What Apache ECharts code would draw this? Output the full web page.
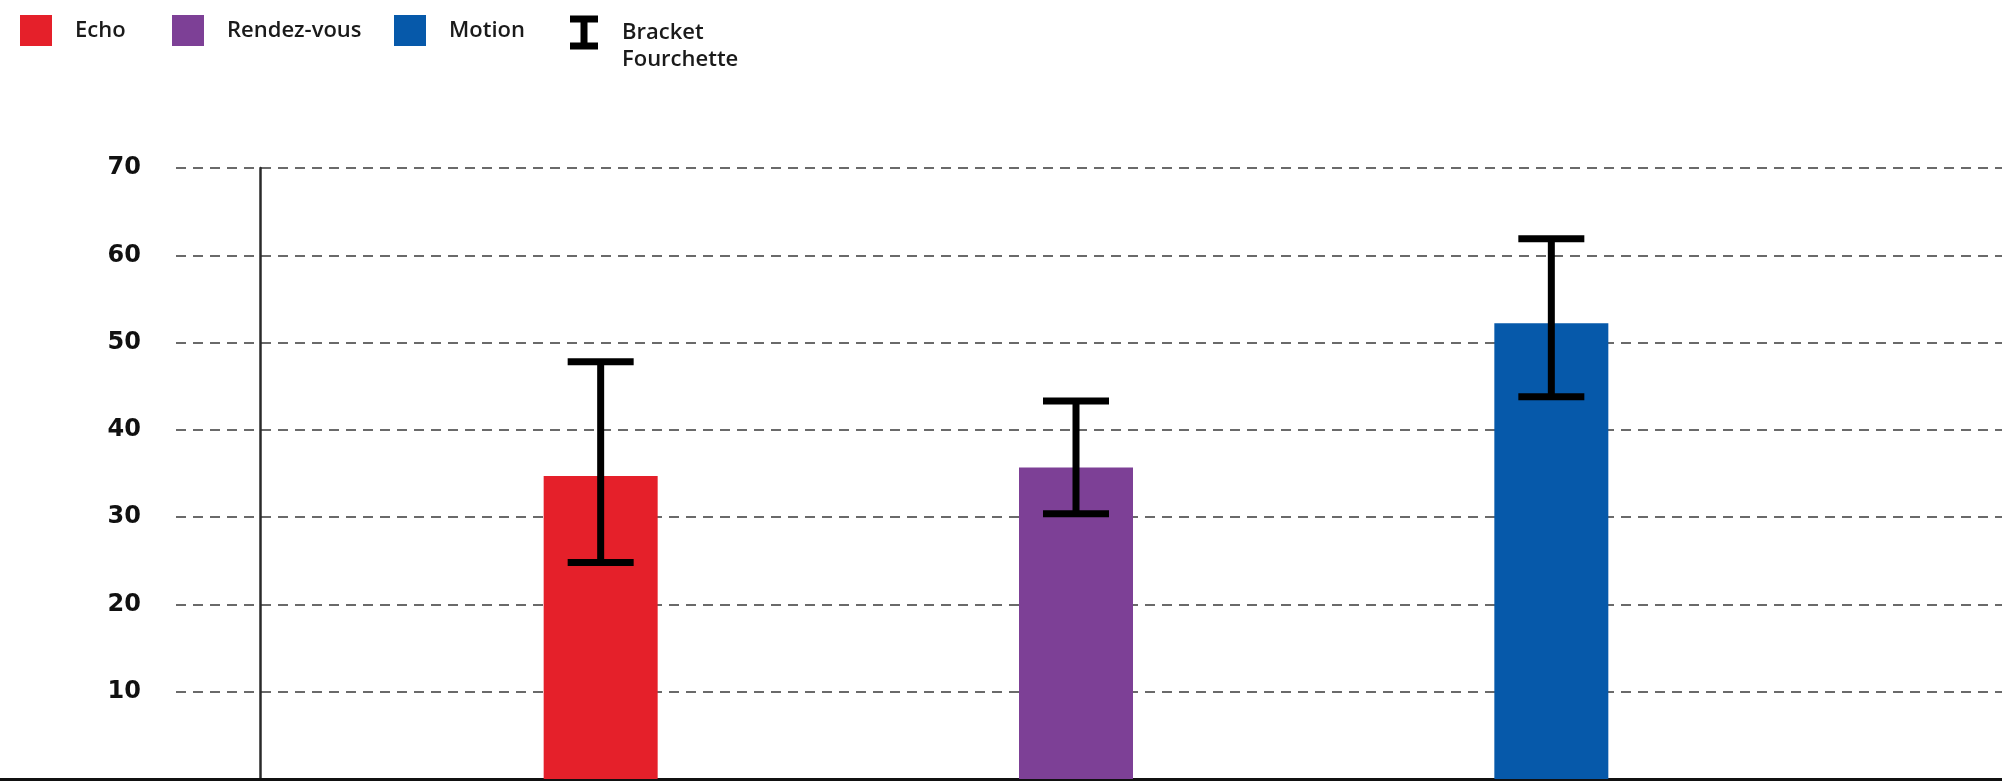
<!DOCTYPE html>
<html>
<head>
<meta charset="utf-8">
<script src="https://cdn.jsdelivr.net/npm/echarts@6/dist/echarts.min.js"></script>
<style>
html,body{margin:0;padding:0;background:#ffffff;}
#chart{width:2002px;height:782px;}
</style>
</head>
<body>
<div id="chart"></div>
<script>
// ---- data ----
const categories = ['Echo', 'Rendez-vous', 'Motion'];
const values = [34.7, 35.7, 52.2];
const lowValues = [24.8, 30.4, 43.8];
const highValues = [47.8, 43.3, 61.9];
const colors = ['#E5202A', '#7D4096', '#0659AA'];
const bracketName = 'Bracket / Fourchette';
const bracketLines = ['Bracket', 'Fourchette'];
const yMin = 0, yMax = 70, yStep = 10;

// ---- layout / style ----
const legendLefts = [20, 172, 394];
const gridTop = 168, gridBottom = 3;
const legendFont = { fontFamily: 'Open Sans', fontWeight: 600, fontSize: 22, color: '#1a1a1a' };

const chart = echarts.init(document.getElementById('chart'), null, { renderer: 'canvas' });

const barSeries = categories.map((c, i) => ({
  name: c,
  type: 'bar',
  xAxisIndex: 0,
  yAxisIndex: 0,
  barWidth: 114,
  barGap: '-100%',
  data: categories.map((cc, j) => (j === i ? values[j] : '-')),
  itemStyle: { color: colors[i] },
  z: 2
}));

const errorSeries = {
  name: bracketName,
  type: 'custom',
  xAxisIndex: 0,
  yAxisIndex: 0,
  z: 5,
  itemStyle: { color: '#000' },
  encode: { x: 0, y: [1, 2] },
  data: categories.map((c, i) => [i, lowValues[i], highValues[i]]),
  renderItem: function (params, api) {
    const idx = api.value(0);
    const lo = api.coord([idx, api.value(1)]);
    const hi = api.coord([idx, api.value(2)]);
    const capW = 66;
    const st = { stroke: '#000', lineWidth: 7, lineCap: 'butt' };
    return {
      type: 'group',
      children: [
        { type: 'line', shape: { x1: hi[0], y1: hi[1], x2: lo[0], y2: lo[1] }, style: st },
        { type: 'line', shape: { x1: hi[0] - capW / 2, y1: hi[1], x2: hi[0] + capW / 2, y2: hi[1] }, style: st },
        { type: 'line', shape: { x1: lo[0] - capW / 2, y1: lo[1], x2: lo[0] + capW / 2, y2: lo[1] }, style: st }
      ]
    };
  }
};

const option = {
  animation: false,
  backgroundColor: '#ffffff',
  legend: [
    ...categories.map((c, i) => ({
      left: legendLefts[i], top: 15, padding: 0,
      itemWidth: 32, itemHeight: 31, icon: 'rect',
      selectedMode: false,
      data: [c],
      textStyle: Object.assign({ padding: [0, 0, 0, 18] }, legendFont)
    })),
    {
      left: 570, top: -8, padding: 0,
      itemWidth: 28, itemHeight: 34,
      selectedMode: false,
      data: [{ name: bracketName, icon: 'path://M0,0H28V7H17.5V27H28V34H0V27H10.5V7H0Z', itemStyle: { color: '#000' } }],
      formatter: () => '\n' + bracketLines.join('\n'),
      textStyle: Object.assign({ padding: [0, 0, 0, 19], lineHeight: 27 }, legendFont)
    }
  ],
  grid: [
    { left: 363, right: 213, top: gridTop, bottom: gridBottom },
    { left: 176, right: 0, top: gridTop, bottom: gridBottom },
    { left: 0, right: 0, top: gridTop, bottom: gridBottom }
  ],
  xAxis: [
    { gridIndex: 0, type: 'category', data: categories,
      axisLine: { show: false }, axisTick: { show: false }, axisLabel: { show: false }, splitLine: { show: false } },
    { gridIndex: 1, type: 'category', data: categories, show: false },
    { gridIndex: 2, type: 'value', min: 0, max: 1,
      axisLine: { show: true, onZero: false, lineStyle: { color: '#111', width: 3 } },
      axisTick: { show: false }, axisLabel: { show: false }, splitLine: { show: false } }
  ],
  yAxis: [
    { gridIndex: 0, type: 'value', min: yMin, max: yMax, interval: yStep, offset: 103,
      axisLine: { show: true, lineStyle: { color: '#2a2a2a', width: 2.5 } },
      axisTick: { show: false }, axisLabel: { show: false }, splitLine: { show: false } },
    { gridIndex: 1, type: 'value', min: yMin, max: yMax, interval: yStep,
      axisLine: { show: false }, axisTick: { show: false },
      axisLabel: { show: true, margin: 35, fontFamily: 'DejaVu Sans', fontWeight: 'bold', fontSize: 24, color: '#111',
        formatter: v => (v === 0 ? '' : String(v)) },
      splitLine: { show: true, lineStyle: { color: '#6a6a6a', width: 2, type: [10, 7] } } },
    { gridIndex: 2, type: 'value', min: yMin, max: yMax, show: false }
  ],
  series: [...barSeries, errorSeries]
};

chart.setOption(option);
</script>
</body>
</html>
